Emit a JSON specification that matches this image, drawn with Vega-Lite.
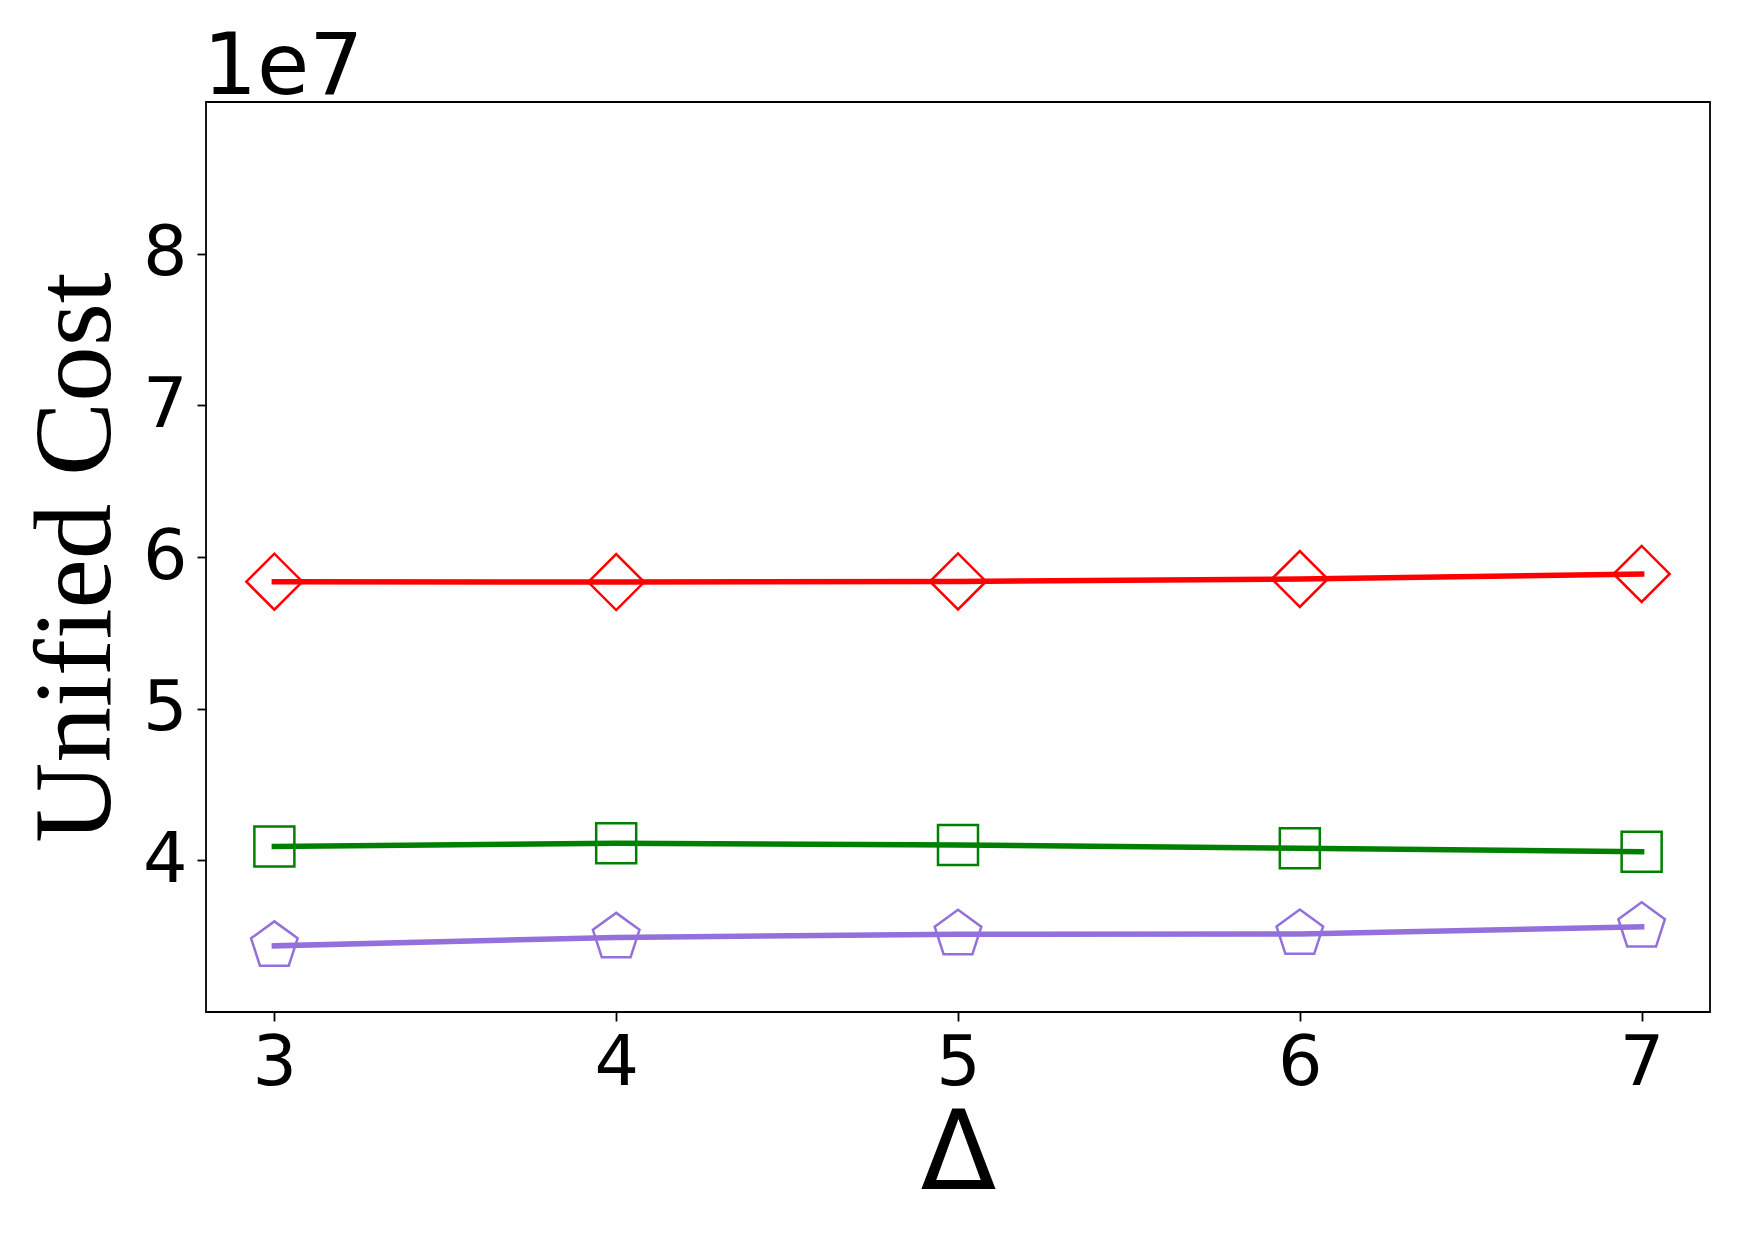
{
  "$schema": "https://vega.github.io/schema/vega-lite/v6.json",
  "autosize": {"type": "none"},
  "padding": {"left": 206, "top": 102, "right": 32, "bottom": 233},
  "width": 1504,
  "height": 910,
  "background": "white",
  "title": {
    "text": "1e7",
    "anchor": "start",
    "frame": "group",
    "font": "DejaVu Sans",
    "fontSize": 85,
    "fontWeight": "normal",
    "color": "black",
    "baseline": "alphabetic",
    "offset": 7,
    "dx": -3,
    "dy": 84
  },
  "config": {
    "view": {"stroke": "black", "strokeWidth": 1.8},
    "axis": {
      "domain": false,
      "grid": false,
      "tickColor": "black",
      "tickWidth": 1.8,
      "tickSize": 9,
      "labelFont": "DejaVu Sans",
      "labelFontSize": 70,
      "labelColor": "black",
      "titleColor": "black",
      "titleFontWeight": "normal"
    }
  },
  "data": {
    "values": [
      {"delta": 3, "series": "A", "cost": 58370000},
      {"delta": 4, "series": "A", "cost": 58350000},
      {"delta": 5, "series": "A", "cost": 58390000},
      {"delta": 6, "series": "A", "cost": 58550000},
      {"delta": 7, "series": "A", "cost": 58880000},
      {"delta": 3, "series": "B", "cost": 40920000},
      {"delta": 4, "series": "B", "cost": 41120000},
      {"delta": 5, "series": "B", "cost": 41010000},
      {"delta": 6, "series": "B", "cost": 40790000},
      {"delta": 7, "series": "B", "cost": 40570000},
      {"delta": 3, "series": "C", "cost": 34360000},
      {"delta": 4, "series": "C", "cost": 34920000},
      {"delta": 5, "series": "C", "cost": 35120000},
      {"delta": 6, "series": "C", "cost": 35140000},
      {"delta": 7, "series": "C", "cost": 35620000}
    ]
  },
  "encoding": {
    "x": {
      "field": "delta",
      "type": "quantitative",
      "scale": {"domain": [2.8, 7.2], "nice": false, "zero": false},
      "axis": {
        "values": [3, 4, 5, 6, 7],
        "format": "d",
        "title": "Δ",
        "titleFont": "DejaVu Sans",
        "titleFontSize": 111,
        "labelPadding": 8,
        "titlePadding": 2
      }
    },
    "y": {
      "field": "cost",
      "type": "quantitative",
      "scale": {"domain": [30000000, 90000000], "nice": false, "zero": false},
      "axis": {
        "values": [40000000, 50000000, 60000000, 70000000, 80000000],
        "labelExpr": "format(datum.value / 10000000, 'd')",
        "title": "Unified Cost",
        "titleFont": "Liberation Serif",
        "titleFontSize": 111,
        "labelPadding": 10,
        "titlePadding": 10
      }
    },
    "color": {
      "field": "series",
      "type": "nominal",
      "scale": {"domain": ["A", "B", "C"], "range": ["#ff0000", "#008000", "#9370db"]},
      "legend": null
    }
  },
  "layer": [
    {
      "mark": {"type": "line", "strokeWidth": 5.5, "strokeCap": "square"}
    },
    {
      "transform": [{"filter": "datum.series === 'A'"}],
      "mark": {"type": "point", "shape": "diamond", "size": 3136, "filled": false, "strokeWidth": 2.5, "opacity": 1}
    },
    {
      "transform": [{"filter": "datum.series === 'B'"}],
      "mark": {"type": "point", "shape": "square", "size": 1600, "filled": false, "strokeWidth": 2.5, "opacity": 1}
    },
    {
      "transform": [{"filter": "datum.series === 'C'"}],
      "mark": {"type": "point", "shape": "M0,-1L0.951,-0.309L0.588,0.809L-0.588,0.809L-0.951,-0.309Z", "size": 2401, "filled": false, "strokeWidth": 2.5, "opacity": 1}
    }
  ]
}
